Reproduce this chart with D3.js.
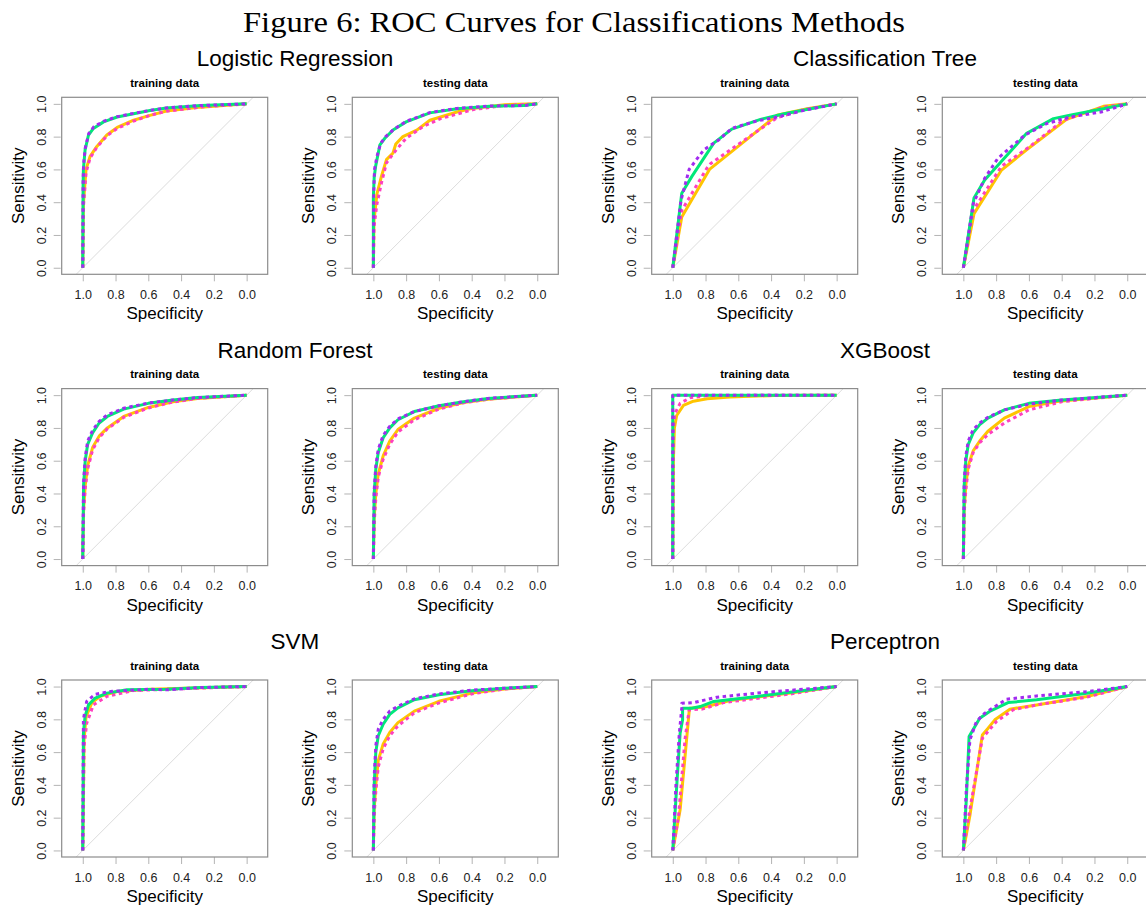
<!DOCTYPE html>
<html>
<head>
<meta charset="utf-8">
<script src="https://d3js.org/d3.v7.min.js"></script>
<style>
  body { margin: 0; background: #fff; }
  text { font-family: "Liberation Sans", Arial, sans-serif; }
</style>
</head>
<body>
<div id="graph1"></div>
<script>
// each curve is a list of [specificity, sensitivity]
// order inside a panel: gold (solid), pink (dotted), green (solid), purple (dotted)

var lrTrain = [
    [[1,0],[0.996,0.39],[0.98,0.6],[0.955,0.68],[0.914,0.74],[0.853,0.81],[0.79,0.856],[0.69,0.9],[0.59,0.93],[0.49,0.956],[0.28,0.98],[0,1]],
    [[1,0],[0.996,0.37],[0.98,0.58],[0.955,0.67],[0.914,0.735],[0.853,0.805],[0.79,0.85],[0.69,0.895],[0.59,0.93],[0.49,0.955],[0.28,0.98],[0,1]],
    [[1,0],[0.998,0.5],[0.996,0.6],[0.986,0.718],[0.965,0.81],[0.935,0.85],[0.873,0.89],[0.79,0.92],[0.69,0.94],[0.59,0.96],[0.49,0.975],[0.28,0.99],[0,1]],
    [[1,0],[0.998,0.52],[0.995,0.63],[0.985,0.73],[0.963,0.82],[0.933,0.86],[0.87,0.895],[0.79,0.922],[0.69,0.942],[0.59,0.96],[0.49,0.975],[0.28,0.99],[0,1]]
];
var lrTest = [
    [[1,0],[0.996,0.29],[0.978,0.45],[0.95,0.56],[0.92,0.66],[0.88,0.7],[0.863,0.755],[0.82,0.8],[0.735,0.84],[0.655,0.9],[0.49,0.95],[0.41,0.97],[0.2,0.995],[0,1]],
    [[1,0],[0.996,0.25],[0.978,0.39],[0.95,0.52],[0.92,0.64],[0.86,0.72],[0.8,0.79],[0.7,0.86],[0.59,0.91],[0.39,0.965],[0.2,0.99],[0,1]],
    [[1,0],[1,0.43],[0.995,0.55],[0.986,0.62],[0.96,0.75],[0.93,0.79],[0.88,0.84],[0.8,0.89],[0.655,0.945],[0.49,0.97],[0.29,0.985],[0.08,0.99],[0,1]],
    [[1,0],[0.998,0.45],[0.993,0.6],[0.978,0.68],[0.955,0.76],[0.925,0.8],[0.875,0.845],[0.8,0.893],[0.655,0.947],[0.49,0.972],[0.29,0.987],[0.08,0.99],[0,1]]
];
var ctTrain = [
    [[1,0],[0.945,0.31],[0.776,0.6],[0.365,0.93],[0.18,0.97],[0,1]],
    [[1,0],[0.945,0.35],[0.79,0.61],[0.77,0.635],[0.59,0.76],[0.445,0.86],[0.365,0.915],[0.2,0.965],[0,1]],
    [[1,0],[0.945,0.455],[0.884,0.556],[0.75,0.76],[0.64,0.846],[0.465,0.905],[0.32,0.94],[0,1]],
    [[1,0],[0.95,0.41],[0.9,0.6],[0.81,0.72],[0.72,0.78],[0.64,0.85],[0.49,0.895],[0.36,0.92],[0.2,0.96],[0,1]]
];
var ctTest = [
    [[1,0],[0.935,0.33],[0.767,0.596],[0.614,0.72],[0.37,0.905],[0.145,0.985],[0,1]],
    [[1,0],[0.94,0.35],[0.767,0.62],[0.594,0.74],[0.39,0.9],[0.145,0.98],[0,1]],
    [[1,0],[0.935,0.425],[0.87,0.535],[0.614,0.82],[0.45,0.91],[0.35,0.93],[0.145,0.97],[0,1]],
    [[1,0],[0.94,0.39],[0.87,0.545],[0.79,0.667],[0.624,0.81],[0.49,0.88],[0.35,0.92],[0.16,0.95],[0,1]]
];
var rfTrain = [
    [[1,0],[0.995,0.3],[0.985,0.45],[0.97,0.57],[0.94,0.68],[0.9,0.75],[0.85,0.8],[0.75,0.87],[0.6,0.925],[0.45,0.96],[0.3,0.98],[0,1]],
    [[1,0],[0.995,0.28],[0.985,0.43],[0.97,0.55],[0.94,0.665],[0.9,0.74],[0.85,0.795],[0.75,0.865],[0.6,0.922],[0.45,0.958],[0.3,0.98],[0,1]],
    [[1,0],[0.995,0.45],[0.985,0.6],[0.97,0.7],[0.94,0.77],[0.9,0.83],[0.85,0.87],[0.75,0.915],[0.6,0.95],[0.45,0.97],[0.3,0.985],[0,1]],
    [[1,0],[0.995,0.47],[0.985,0.62],[0.97,0.72],[0.94,0.785],[0.9,0.84],[0.85,0.88],[0.75,0.92],[0.6,0.952],[0.45,0.97],[0.3,0.985],[0,1]]
];
var rfTest = [
    [[1,0],[0.995,0.25],[0.985,0.4],[0.97,0.52],[0.94,0.63],[0.9,0.72],[0.85,0.79],[0.75,0.86],[0.6,0.92],[0.45,0.955],[0.3,0.975],[0,1]],
    [[1,0],[0.995,0.22],[0.985,0.37],[0.97,0.5],[0.94,0.61],[0.9,0.7],[0.85,0.775],[0.75,0.85],[0.6,0.915],[0.45,0.953],[0.3,0.975],[0,1]],
    [[1,0],[0.995,0.4],[0.985,0.55],[0.97,0.65],[0.94,0.74],[0.9,0.8],[0.85,0.85],[0.75,0.9],[0.6,0.935],[0.45,0.96],[0.3,0.98],[0,1]],
    [[1,0],[0.995,0.42],[0.985,0.57],[0.97,0.67],[0.94,0.755],[0.9,0.81],[0.85,0.855],[0.75,0.9],[0.6,0.935],[0.45,0.96],[0.3,0.98],[0,1]]
];
var xgbTrain = [
    [[1,0],[0.996,0.6],[0.99,0.8],[0.976,0.876],[0.935,0.937],[0.874,0.963],[0.79,0.978],[0.65,0.988],[0.38,0.998],[0,1]],
    [[1,0],[0.998,0.6],[0.996,0.8],[0.986,0.89],[0.955,0.95],[0.894,0.984],[0.79,0.998],[0,1]],
    [[1,0],[1,1],[0,1]],
    [[1,0],[1,1],[0,1]]
];
var xgbTest = [
    [[1,0],[0.995,0.3],[0.985,0.45],[0.97,0.57],[0.94,0.66],[0.9,0.72],[0.85,0.78],[0.75,0.86],[0.6,0.93],[0.4,0.965],[0,1]],
    [[1,0],[0.995,0.28],[0.985,0.42],[0.97,0.55],[0.94,0.65],[0.9,0.71],[0.85,0.76],[0.75,0.83],[0.6,0.91],[0.4,0.96],[0,1]],
    [[1,0],[0.995,0.45],[0.985,0.6],[0.97,0.7],[0.94,0.77],[0.9,0.82],[0.85,0.86],[0.75,0.91],[0.6,0.95],[0.4,0.97],[0,1]],
    [[1,0],[0.995,0.47],[0.985,0.63],[0.97,0.72],[0.94,0.79],[0.9,0.83],[0.85,0.865],[0.75,0.91],[0.6,0.945],[0.4,0.97],[0,1]]
];
var svmTrain = [
    [[1,0],[0.992,0.675],[0.98,0.817],[0.945,0.9],[0.894,0.94],[0.79,0.97],[0.59,0.984],[0,1]],
    [[1,0],[0.992,0.634],[0.976,0.776],[0.935,0.888],[0.853,0.94],[0.69,0.976],[0,1]],
    [[1,0],[0.996,0.715],[0.986,0.817],[0.965,0.888],[0.924,0.93],[0.853,0.96],[0.73,0.98],[0.486,0.984],[0.28,0.994],[0,1]],
    [[1,0],[0.996,0.8],[0.976,0.91],[0.924,0.953],[0.833,0.97],[0.59,0.984],[0.49,0.98],[0.28,0.994],[0,1]]
];
var svmTest = [
    [[1,0],[0.995,0.25],[0.985,0.4],[0.97,0.55],[0.94,0.65],[0.9,0.72],[0.85,0.78],[0.75,0.85],[0.6,0.91],[0.4,0.96],[0.2,0.985],[0,1]],
    [[1,0],[0.995,0.22],[0.985,0.36],[0.97,0.51],[0.94,0.62],[0.9,0.7],[0.85,0.76],[0.75,0.84],[0.6,0.9],[0.4,0.955],[0.2,0.985],[0,1]],
    [[1,0],[0.995,0.4],[0.985,0.6],[0.97,0.7],[0.94,0.77],[0.9,0.83],[0.85,0.87],[0.75,0.92],[0.6,0.95],[0.4,0.975],[0.2,0.99],[0,1]],
    [[1,0],[0.995,0.45],[0.985,0.64],[0.97,0.74],[0.94,0.8],[0.9,0.85],[0.85,0.88],[0.75,0.925],[0.6,0.955],[0.4,0.978],[0.2,0.99],[0,1]]
];
var pcTrain = [
    [[1,0],[0.955,0.248],[0.898,0.868],[0.812,0.874],[0.65,0.915],[0.282,0.96],[0,1]],
    [[1,0],[0.965,0.207],[0.925,0.68],[0.9,0.858],[0.822,0.862],[0.69,0.902],[0.28,0.955],[0,1]],
    [[1,0],[0.971,0.47],[0.955,0.715],[0.94,0.797],[0.94,0.868],[0.884,0.868],[0.833,0.878],[0.75,0.909],[0.486,0.94],[0.2,0.976],[0,1]],
    [[1,0],[0.98,0.41],[0.96,0.715],[0.945,0.868],[0.945,0.898],[0.873,0.902],[0.73,0.935],[0.486,0.96],[0.2,0.984],[0,1]]
];
var pcTest = [
    [[1,0],[0.961,0.207],[0.884,0.705],[0.849,0.746],[0.808,0.797],[0.716,0.862],[0.553,0.888],[0.247,0.939],[0,1]],
    [[1,0],[0.971,0.187],[0.884,0.685],[0.798,0.787],[0.696,0.858],[0.553,0.888],[0.247,0.935],[0,1]],
    [[1,0],[0.982,0.31],[0.965,0.695],[0.9,0.807],[0.84,0.848],[0.727,0.902],[0.553,0.919],[0.247,0.959],[0,1]],
    [[1,0],[0.982,0.37],[0.96,0.675],[0.92,0.787],[0.87,0.837],[0.737,0.923],[0.553,0.943],[0.247,0.969],[0,1]]
];

var methods = ["Logistic Regression", "Classification Tree", "Random Forest", "XGBoost", "SVM", "Perceptron"];
var subTitles = ["training data", "testing data"];
var panelData = [[lrTrain, lrTest], [ctTrain, ctTest], [rfTrain, rfTest], [xgbTrain, xgbTest], [svmTrain, svmTest], [pcTrain, pcTest]];
var tickVals = [1.0, 0.8, 0.6, 0.4, 0.2, 0.0];

var lineColors = ["#ffc400", "#ff40bf", "#00e879", "#a22bf0"];
var lineDash = [null, "3.5,3.5", null, "3.5,3.5"];

// overall layout
var W = 1146, H = 908;
var colLeft = [61.7, 352.3, 651.7, 942.3];
var rowTop = [97.3, 388.6, 680];
var boxW = 206, boxH = 177;

var svg = d3.select("#graph1")
    .append("svg")
    .attr("width", W)
    .attr("height", H);

// figure title
svg.append("text")
    .attr("x", 574)
    .attr("y", 32)
    .attr("text-anchor", "middle")
    .style("font-family", "'Liberation Serif', 'Times New Roman', serif")
    .style("font-size", "29px")
    .attr("textLength", 662)
    .attr("lengthAdjust", "spacingAndGlyphs")
    .text("Figure 6: ROC Curves for Classifications Methods");

methods.forEach(function (name, m) {
    var row = Math.floor(m / 2), half = m % 2;

    // method title over each pair of panels
    svg.append("text")
        .attr("x", half == 0 ? 295 : 885)
        .attr("y", rowTop[row] - 31)
        .attr("text-anchor", "middle")
        .style("font-size", "22.5px")
        .text(name);

    for (var k = 0; k < 2; k++) {
        var bx = colLeft[half * 2 + k], by = rowTop[row];
        drawPanel(bx, by, subTitles[k], panelData[m][k]);
    }
});

function drawPanel(bx, by, sub, curves) {
    // equal aspect like pROC: y range -0.04..1.04, x spread to fill the box
    var unit = boxH / 1.08;
    var half = boxW / 2 / unit;
    var x = d3.scaleLinear().domain([0.5 + half, 0.5 - half]).range([bx, bx + boxW]);
    var y = d3.scaleLinear().domain([-0.04, 1.04]).range([by + boxH, by]);

    var g = svg.append("g");

    g.append("text")
        .attr("x", bx + boxW / 2)
        .attr("y", by - 10.5)
        .attr("text-anchor", "middle")
        .style("font-size", "11.5px")
        .style("font-weight", "bold")
        .text(sub);

    // diagonal reference line
    g.append("line")
        .attr("x1", x(1.04)).attr("y1", y(-0.04))
        .attr("x2", x(-0.04)).attr("y2", y(1.04))
        .attr("stroke", "#dcdcdc")
        .attr("stroke-width", 1);

    // Add X axis
    var xg = g.append("g")
        .attr("transform", "translate(0," + (by + boxH) + ")")
        .call(d3.axisBottom(x).tickValues(tickVals).tickFormat(d3.format(".1f")).tickSize(7).tickPadding(9));
    xg.select(".domain").remove();
    xg.selectAll("line").attr("stroke", "#b4b4b4");
    xg.selectAll("text")
        .style("font-size", "12.5px")
        .style("font-family", "'Liberation Sans', Arial, sans-serif")
        .attr("fill", "#222");

    // Add Y axis
    var yg = g.append("g")
        .attr("transform", "translate(" + (bx - 1) + ",0)")
        .call(d3.axisLeft(y).tickValues(tickVals).tickFormat(d3.format(".1f")).tickSize(7));
    yg.select(".domain").remove();
    yg.selectAll("line").attr("stroke", "#b4b4b4");
    yg.selectAll("text")
        .attr("x", 0)
        .attr("y", -15)
        .attr("dy", 0)
        .attr("transform", "rotate(-90)")
        .attr("text-anchor", "middle")
        .style("font-size", "12.5px")
        .style("font-family", "'Liberation Sans', Arial, sans-serif")
        .attr("fill", "#222");

    // axis titles
    g.append("text")
        .attr("x", bx + boxW / 2)
        .attr("y", by + boxH + 45)
        .attr("text-anchor", "middle")
        .style("font-size", "17px")
        .text("Specificity");
    g.append("text")
        .attr("transform", "translate(" + (bx - 38) + "," + (by + boxH / 2) + ") rotate(-90)")
        .attr("text-anchor", "middle")
        .style("font-size", "17px")
        .text("Sensitivity");

    // the curves
    var line = d3.line()
        .x(function (d) { return x(d[0]); })
        .y(function (d) { return y(d[1]); });

    g.selectAll("path.roc")
        .data(curves)
        .enter()
        .append("path")
        .attr("class", "roc")
        .attr("d", function (d) { return line(d); })
        .attr("fill", "none")
        .attr("stroke", function (d, i) { return lineColors[i]; })
        .attr("stroke-width", 3)
        .attr("stroke-linejoin", "round")
        .attr("stroke-dasharray", function (d, i) { return lineDash[i]; });

    // frame
    g.append("rect")
        .attr("x", bx).attr("y", by)
        .attr("width", boxW).attr("height", boxH)
        .attr("fill", "none")
        .attr("stroke", "#8c8c8c")
        .attr("stroke-width", 1.2);
}
</script>
</body>
</html>
